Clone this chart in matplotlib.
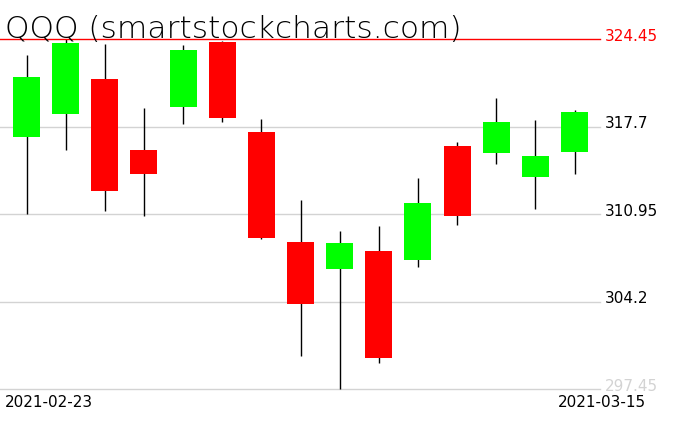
import matplotlib
matplotlib.use("Agg")
import matplotlib.pyplot as plt
import matplotlib.transforms as mtransforms

# Daily QQQ candles
dates = ["2021-02-23", "2021-02-24", "2021-02-25", "2021-02-26", "2021-03-01",
         "2021-03-02", "2021-03-03", "2021-03-04", "2021-03-05", "2021-03-08",
         "2021-03-09", "2021-03-10", "2021-03-11", "2021-03-12", "2021-03-15"]
opens = [316.93, 318.71, 321.39, 315.91, 319.25, 324.25, 317.30, 308.80,
         306.74, 308.11, 307.43, 316.21, 315.70, 313.84, 315.77]
highs = [323.24, 324.45, 324.09, 319.15, 324.01, 324.32, 318.30, 312.07,
         309.65, 310.04, 313.74, 316.52, 319.92, 318.22, 318.99]
lows = [310.96, 315.93, 311.20, 310.83, 317.94, 318.09, 309.03, 300.02,
        297.45, 299.48, 306.89, 310.14, 314.85, 311.37, 314.08]
closes = [321.54, 324.17, 312.76, 314.05, 323.63, 318.38, 309.13, 304.04,
          308.72, 299.87, 311.81, 310.83, 318.07, 315.44, 318.84]

# price levels shown on the right
grid_levels = [317.7, 310.95, 304.2, 297.45]
top_level = 324.45

fig = plt.figure(figsize=(6.76, 4.31), dpi=100)
ax = fig.add_axes([0, 0.0951, 600 / 676, 0.8114])

xs = list(range(len(dates)))

# grid lines
for lv in grid_levels:
    ax.axhline(lv, color="#d3d3d3", lw=1.0, zorder=0, clip_on=False)
ax.axhline(top_level, color="#ff0000", lw=1.0, zorder=3, clip_on=False)

# wicks
ax.vlines(xs, lows, highs, color="black", lw=1.0, zorder=1, clip_on=False)

# bodies
for x, o, c in zip(xs, opens, closes):
    col = "#00ff00" if c >= o else "#ff0000"
    ax.bar(x, abs(c - o), bottom=min(o, c), width=0.69, color=col,
           edgecolor="none", zorder=2)

ax.set_xlim(-0.677, 14.65)
ax.set_ylim(297.45, 324.45)
ax.axis("off")

# right-hand price labels
tr = mtransforms.blended_transform_factory(ax.transAxes, ax.transData)
for lv in grid_levels:
    col = "#d3d3d3" if lv == grid_levels[-1] else "black"
    ax.text(605 / 600, lv - 0.05, f"{lv:g}", transform=tr, color=col,
            fontsize=11, va="baseline", ha="left", clip_on=False)
ax.text(605 / 600, top_level - 0.05, f"{top_level:g}", transform=tr, color="#ff0000",
        fontsize=11, va="baseline", ha="left", clip_on=False)

# date labels
fig.text(5 / 676, (431 - 407) / 431, dates[0], fontsize=11, va="baseline", ha="left")
fig.text(646 / 676, (431 - 407) / 431, dates[-1], fontsize=11, va="baseline", ha="right")

# title
fig.text(5 / 676, (431 - 38) / 431, "QQQ (smartstockcharts.com)", fontsize=22.5,
         fontweight="ultralight", va="baseline", ha="left", color="black")

fig.savefig("out.png", dpi=100)
